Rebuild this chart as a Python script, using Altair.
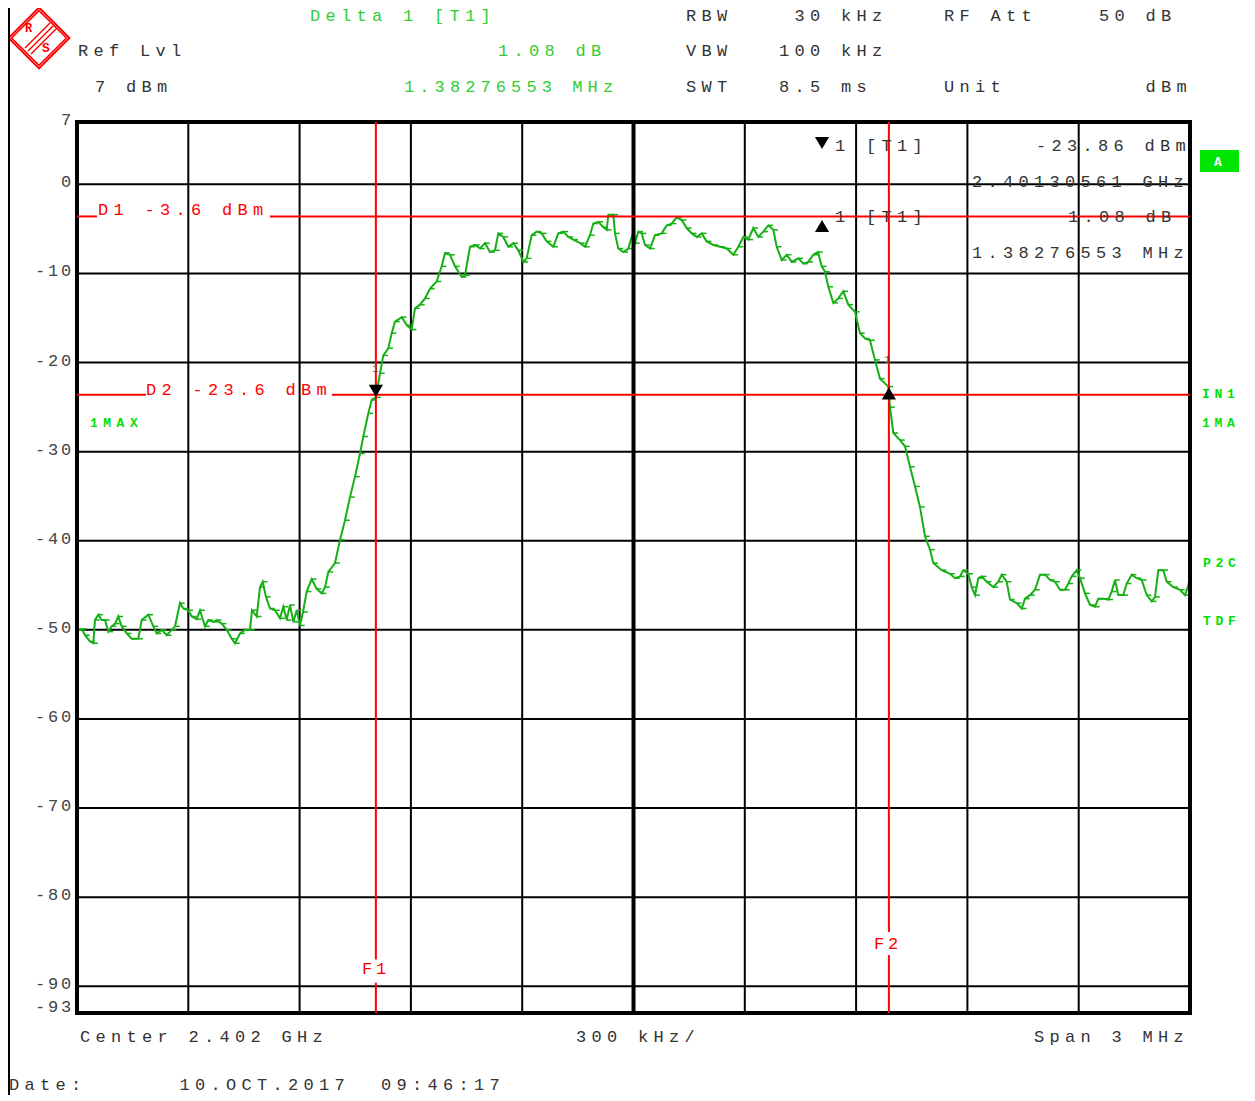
import altair as alt
import pandas as pd

# ---------------- trace data ----------------
freq_mhz = [
    2400.5035, 2400.5127, 2400.5216, 2400.5350, 2400.5439, 2400.5485, 2400.5574, 2400.5666, 2400.5755, 2400.5844,
    2400.5935, 2400.6024, 2400.6113, 2400.6205, 2400.6340, 2400.6474, 2400.6652, 2400.6744, 2400.6922, 2400.7057,
    2400.7148, 2400.7283, 2400.7418, 2400.7553, 2400.7642, 2400.7776, 2400.7865, 2400.8000, 2400.8092, 2400.8226,
    2400.8315, 2400.8450, 2400.8539, 2400.8674, 2400.8765, 2400.8900, 2400.9035, 2400.9170, 2400.9259, 2400.9394,
    2400.9528, 2400.9663, 2400.9717, 2400.9844, 2400.9933, 2401.0005, 2401.0094, 2401.0202, 2401.0337, 2401.0472,
    2401.0561, 2401.0652, 2401.0741, 2401.0830, 2401.0922, 2401.1011, 2401.1092, 2401.1191, 2401.1326, 2401.1461,
    2401.1596, 2401.1685, 2401.1774, 2401.1954, 2401.2089, 2401.2224, 2401.2358, 2401.2493, 2401.2628, 2401.2717,
    2401.2852, 2401.2943, 2401.3056, 2401.3167, 2401.3256, 2401.3391, 2401.3482, 2401.3571, 2401.3752, 2401.3887,
    2401.4022, 2401.4111, 2401.4245, 2401.4380, 2401.4515, 2401.4695, 2401.4830, 2401.4919, 2401.5054, 2401.5189,
    2401.5369, 2401.5458, 2401.5593, 2401.5728, 2401.5863, 2401.5997, 2401.6132, 2401.6267, 2401.6356, 2401.6491,
    2401.6625, 2401.6760, 2401.6895, 2401.7030, 2401.7121, 2401.7256, 2401.7391, 2401.7526, 2401.7660, 2401.7838,
    2401.7973, 2401.8108, 2401.8243, 2401.8377, 2401.8558, 2401.8693, 2401.8827, 2401.8916, 2401.9051, 2401.9186,
    2401.9278, 2401.9321, 2401.9456, 2401.9501, 2401.9590, 2401.9725, 2401.9860, 2401.9951, 2402.0040, 2402.0129,
    2402.0221, 2402.0310, 2402.0445, 2402.0580, 2402.0760, 2402.0895, 2402.1030, 2402.1164, 2402.1299, 2402.1434,
    2402.1569, 2402.1704, 2402.1838, 2402.1973, 2402.2151, 2402.2332, 2402.2512, 2402.2690, 2402.2825, 2402.2960,
    2402.3094, 2402.3229, 2402.3364, 2402.3499, 2402.3633, 2402.3768, 2402.3860, 2402.3995, 2402.4129, 2402.4264,
    2402.4442, 2402.4577, 2402.4712, 2402.4846, 2402.4973, 2402.5073, 2402.5162, 2402.5251, 2402.5386, 2402.5520,
    2402.5655, 2402.5790, 2402.5970, 2402.6105, 2402.6240, 2402.6375, 2402.6509, 2402.6644, 2402.6868, 2402.6914,
    2402.7003, 2402.7183, 2402.7318, 2402.7453, 2402.7588, 2402.7722, 2402.7857, 2402.7992, 2402.8081, 2402.8307,
    2402.8531, 2402.8666, 2402.8801, 2402.8890, 2402.9024, 2402.9116, 2402.9205, 2402.9294, 2402.9385, 2402.9520,
    2402.9698, 2402.9833, 2402.9925, 2403.0059, 2403.0148, 2403.0329, 2403.0464, 2403.0553, 2403.0687, 2403.0822,
    2403.0957, 2403.1092, 2403.1226, 2403.1361, 2403.1496, 2403.1631, 2403.1720, 2403.1811, 2403.1946, 2403.2035,
    2403.2170, 2403.2305, 2403.2439, 2403.2528, 2403.2663, 2403.2798, 2403.2889, 2403.2978, 2403.3067, 2403.3202,
    2403.3294, 2403.3429, 2403.3563, 2403.3698, 2403.3833, 2403.3968, 2403.4057, 2403.4146, 2403.4280, 2403.4372,
    2403.4550, 2403.4730, 2403.4865, 2403.4954, 2403.5000,
]
level_dbm = [
    -50.0, -49.9, -50.6, -51.3, -51.5, -48.9, -48.3, -48.9, -48.9, -50.2,
    -49.6, -49.3, -48.5, -49.6, -50.4, -51.0, -51.0, -48.9, -48.3, -49.6,
    -50.4, -50.0, -50.6, -50.0, -49.6, -47.0, -47.6, -47.8, -48.5, -48.8,
    -47.8, -49.6, -48.9, -49.1, -48.9, -49.3, -50.0, -51.0, -51.5, -50.4,
    -50.0, -50.0, -47.8, -48.5, -45.2, -44.6, -46.3, -47.6, -47.8, -48.7,
    -47.4, -48.9, -47.2, -49.1, -47.8, -49.5, -48.0, -45.7, -44.3, -45.4,
    -45.9, -45.2, -43.5, -42.5, -39.9, -37.7, -35.1, -32.8, -30.2, -28.3,
    -25.7, -24.2, -23.9, -21.2, -19.2, -18.4, -16.7, -15.4, -14.9, -15.8,
    -16.3, -13.9, -13.5, -12.8, -11.7, -10.9, -9.2, -7.7, -7.9, -9.2,
    -10.4, -10.2, -7.0, -6.8, -7.2, -6.6, -7.6, -7.4, -5.5, -5.9,
    -7.0, -6.6, -7.4, -8.7, -8.3, -5.7, -5.3, -5.5, -6.4, -7.0,
    -5.5, -5.3, -5.9, -6.2, -6.6, -7.0, -5.7, -4.4, -4.2, -4.8,
    -5.1, -3.4, -3.4, -5.5, -7.2, -7.6, -7.2, -5.9, -6.6, -5.3,
    -5.5, -6.8, -7.2, -5.7, -5.5, -4.6, -4.4, -3.7, -4.0, -4.9,
    -5.5, -5.9, -5.5, -6.4, -6.8, -7.0, -7.2, -7.9, -7.0, -5.9,
    -6.2, -4.9, -5.9, -5.3, -4.6, -5.1, -7.0, -8.5, -7.9, -8.7,
    -8.3, -8.9, -8.7, -7.9, -7.6, -9.2, -9.8, -11.5, -13.3, -12.8,
    -12.0, -13.5, -14.3, -16.7, -17.3, -17.5, -19.7, -21.8, -22.7, -25.0,
    -27.9, -28.7, -29.4, -31.7, -33.9, -36.2, -39.5, -41.0, -42.5, -43.3,
    -43.7, -44.2, -44.0, -43.3, -43.7, -45.2, -46.1, -44.2, -44.0, -44.6,
    -45.2, -44.6, -43.8, -44.6, -46.6, -47.0, -47.6, -46.5, -46.1, -45.5,
    -43.8, -43.8, -44.4, -44.6, -45.5, -45.5, -44.8, -44.0, -43.3, -44.2,
    -45.9, -47.2, -47.4, -46.5, -46.5, -46.6, -45.7, -44.4, -46.1, -46.1,
    -44.8, -43.8, -44.2, -44.4, -46.1, -46.8, -46.3, -43.3, -43.3, -44.6,
    -45.2, -45.5, -46.1, -45.0, -44.1,
]

# ---------------- axes / settings ----------------
F_START, F_STOP = 2400.5, 2403.5
REF_LVL, BOTTOM_LVL = 7, -93
CENTER_MHZ = 2402.0
x_grid_mhz = [2400.8, 2401.1, 2401.4, 2401.7, 2402.3, 2402.6, 2402.9, 2403.2]
y_grid_dbm = [0, -10, -20, -30, -40, -50, -60, -70, -80, -90]
y_tick_values = [7, 0, -10, -20, -30, -40, -50, -60, -70, -80, -90, -93]
y_tick_labels = ["7", "0", "-10", "-20", "-30", "-40", "-50", "-60", "-70", "-80", "-90", "-93"]

marker1_freq = 2401.30561
marker1_level = -23.86
delta_freq = 1.38276553
delta_level = 1.08
d1_level = -3.6
d2_level = -23.6

# display line gaps (around their labels)
d_line_x = [F_START, 2401.020, F_START, 2401.187]
d_line_x2 = [2400.554, F_STOP, 2400.686, F_STOP]
d_line_y = [d1_level, d1_level, d2_level, d2_level]
f_line_f = [marker1_freq, marker1_freq, marker1_freq + delta_freq, marker1_freq + delta_freq]
f_line_y = [REF_LVL, -89.6, REF_LVL, -86.5]
f_line_y2 = [-87.0, BOTTOM_LVL, -83.9, BOTTOM_LVL]

# ---------------- styling ----------------
W, H = 1113, 891
OX, OY = 77, 122          # page position of plot origin
TRACE = "#14b014"
GREEN_TXT = "#33cc33"
BRIGHT = "#00e000"
RED = "#ff0000"
DARK = "#333333"
AXT = "#444444"
FONT = "Liberation Mono"
FS = 17


def spaced(text, x_left, baseline, pitch, color, size=FS):
    out = []
    for i, ch in enumerate(text):
        if ch != " ":
            out.append({"ch": ch, "px": x_left + i * pitch - OX, "py": baseline - OY,
                        "col": color, "fs": size})
    return out


rows = []
P = 15.5
# header
rows += spaced("Delta 1 [T1]", 310, 21, P, GREEN_TXT)
rows += spaced("RBW    30 kHz", 686, 21, P, DARK)
rows += spaced("RF Att    50 dB", 944, 21, P, DARK)
rows += spaced("Ref Lvl", 78, 56, P, DARK)
rows += spaced("1.08 dB", 498, 56, P, GREEN_TXT)
rows += spaced("VBW   100 kHz", 686, 56, P, DARK)
rows += spaced("7 dBm", 95, 92, P, DARK)
rows += spaced("1.38276553 MHz", 404, 92, 15.3, GREEN_TXT)
rows += spaced("SWT   8.5 ms", 686, 92, P, DARK)
rows += spaced("Unit         dBm", 944, 92, P, DARK)
# marker info inside the grid
rows += spaced("1 [T1]", 835, 151, P, DARK)
rows += spaced("-23.86 dBm", 1036, 151, P, DARK)
rows += spaced("2.40130561 GHz", 972, 187, P, DARK)
rows += spaced("1 [T1]", 835, 222, P, DARK)
rows += spaced("1.08 dB", 1068, 222, P, DARK)
rows += spaced("1.38276553 MHz", 972, 258, P, DARK)
rows += spaced("1", 372, 372, 0, "#555555", 11)
rows += spaced("1", 884, 363, 0, "#555555", 11)
# display lines / frequency lines
rows += spaced("D1 -3.6 dBm", 98, 215, P, RED)
rows += spaced("D2 -23.6 dBm", 146, 395, P, RED)
rows += spaced("F1", 362, 974, 14, RED)
rows += spaced("F2", 874, 949, 14, RED)
# y labels
for lab, val in zip(y_tick_labels, y_tick_values):
    gy = OY + (REF_LVL - val) * H / 100.0
    base = gy - 1 if val == BOTTOM_LVL else gy + 3
    rows += spaced(lab, 74 - len(lab) * 13, base, 13, AXT)
# footer
rows += spaced("Center 2.402 GHz", 80, 1042, P, DARK)
rows += spaced("300 kHz/", 576, 1042, P, DARK)
rows += spaced("Span 3 MHz", 1034, 1042, P, DARK)
rows += spaced("Date:      10.OCT.2017  09:46:17", 9, 1090, P, DARK)

bold_rows = []
bold_rows += spaced("1MAX", 90, 427, 13.3, BRIGHT, 13)
bold_rows += spaced("IN1", 1202, 398, 12.5, BRIGHT, 13)
bold_rows += spaced("1MA", 1202, 427, 12.5, BRIGHT, 13)
bold_rows += spaced("P2C", 1203, 567, 12.5, BRIGHT, 13)
bold_rows += spaced("TDF", 1203, 625, 12.5, BRIGHT, 13)
bold_rows += spaced("A", 1214, 166, 0, "white", 13)
bold_rows += spaced("R", 25, 32, 0, RED, 12)
bold_rows += spaced("S", 42, 52, 0, RED, 13)

one = pd.DataFrame({"a": [0]})

xs = alt.Scale(domain=[F_START, F_STOP], nice=False, zero=False)
ys = alt.Scale(domain=[BOTTOM_LVL, REF_LVL], nice=False, zero=False)

trace_df = pd.DataFrame({"f": freq_mhz, "lvl": level_dbm})

vgrid = alt.Chart(pd.DataFrame({"x": x_grid_mhz})).mark_rule(color="black", strokeWidth=2).encode(
    x=alt.X("x:Q", scale=xs, axis=None))
hgrid = alt.Chart(pd.DataFrame({"y": y_grid_dbm})).mark_rule(color="black", strokeWidth=2).encode(
    y=alt.Y("y:Q", scale=ys, axis=None))

trace = alt.Chart(trace_df).mark_line(color=TRACE, strokeWidth=2, clip=True).encode(
    x=alt.X("f:Q", axis=None), y=alt.Y("lvl:Q", axis=None))
hatch = alt.Chart(trace_df).mark_point(shape="M0,0L1,0", size=90, filled=False, color=TRACE,
                                       strokeWidth=1.5, opacity=1, clip=True).encode(
    x=alt.X("f:Q", axis=None), y=alt.Y("lvl:Q", axis=None))

border = alt.Chart(pd.DataFrame({"x": [F_START], "x2": [F_STOP], "y": [REF_LVL], "y2": [BOTTOM_LVL]})).mark_rect(
    fillOpacity=0, stroke="black", strokeWidth=4).encode(
    x=alt.X("x:Q", axis=None), x2="x2:Q", y=alt.Y("y:Q", axis=None), y2="y2:Q")
center = alt.Chart(pd.DataFrame({"x": [CENTER_MHZ]})).mark_rule(color="black", strokeWidth=4).encode(
    x=alt.X("x:Q", axis=None))

dlines = alt.Chart(pd.DataFrame({"x": d_line_x, "x2": d_line_x2, "y": d_line_y})).mark_rule(
    color=RED, strokeWidth=2).encode(x=alt.X("x:Q", axis=None), x2="x2:Q", y=alt.Y("y:Q", axis=None))
flines = alt.Chart(pd.DataFrame({"f": f_line_f, "y": f_line_y, "y2": f_line_y2})).mark_rule(
    color=RED, strokeWidth=2).encode(x=alt.X("f:Q", axis=None), y=alt.Y("y:Q", axis=None), y2="y2:Q")

m1 = alt.Chart(pd.DataFrame({"f": [marker1_freq], "lvl": [marker1_level]})).mark_point(
    shape="triangle-down", filled=True, color="black", size=200, opacity=1, yOffset=-6).encode(
    x=alt.X("f:Q", axis=None), y=alt.Y("lvl:Q", axis=None))
m2 = alt.Chart(pd.DataFrame({"f": [marker1_freq + delta_freq], "lvl": [marker1_level + delta_level]})).mark_point(
    shape="triangle-up", filled=True, color="black", size=200, opacity=1, yOffset=6).encode(
    x=alt.X("f:Q", axis=None), y=alt.Y("lvl:Q", axis=None))

info_dn = alt.Chart(one).mark_point(shape="triangle-down", filled=True, color="black", size=200, opacity=1).encode(
    x=alt.value(822 - OX), y=alt.value(143 - OY))
info_up = alt.Chart(one).mark_point(shape="triangle-up", filled=True, color="black", size=200, opacity=1).encode(
    x=alt.value(822 - OX), y=alt.value(226 - OY))

abox = alt.Chart(one).mark_rect(color="#00e600").encode(
    x=alt.value(1200 - OX), x2=alt.value(1239 - OX), y=alt.value(150 - OY), y2=alt.value(172 - OY))

logo_outer = alt.Chart(one).mark_point(shape="diamond", filled=False, color=RED, size=3700,
                                       strokeWidth=2, opacity=1).encode(
    x=alt.value(39 - OX), y=alt.value(38 - OY))
logo_inner = alt.Chart(one).mark_point(shape="diamond", filled=False, color=RED, size=3000,
                                       strokeWidth=1.5, opacity=1).encode(
    x=alt.value(39 - OX), y=alt.value(38 - OY))
logo_lines = [
    alt.Chart(one).mark_rule(color=RED, strokeWidth=1.5).encode(
        x=alt.value(x1 - OX), x2=alt.value(x2 - OX), y=alt.value(y1 - OY), y2=alt.value(y2 - OY))
    for (x1, y1, x2, y2) in [(25, 48, 50, 23), (28, 51, 53, 26), (31, 54, 56, 29)]
]

frame = alt.Chart(one).mark_rule(color="black", strokeWidth=2).encode(
    x=alt.value(-68), y=alt.value(-114), y2=alt.value(H + 84))

texts = alt.Chart(pd.DataFrame(rows)).mark_text(align="left", baseline="alphabetic", font=FONT).encode(
    x=alt.X("px:Q", scale=None), y=alt.Y("py:Q", scale=None), text="ch:N",
    color=alt.Color("col:N", scale=None), size=alt.Size("fs:Q", scale=None))
btexts = alt.Chart(pd.DataFrame(bold_rows)).mark_text(align="left", baseline="alphabetic", font=FONT,
                                                      fontWeight="bold").encode(
    x=alt.X("px:Q", scale=None), y=alt.Y("py:Q", scale=None), text="ch:N",
    color=alt.Color("col:N", scale=None), size=alt.Size("fs:Q", scale=None))

chart = alt.layer(
    vgrid, hgrid, trace, hatch, center, border, dlines, flines, m1, m2, info_dn, info_up, abox,
    logo_outer, logo_inner, *logo_lines, frame, texts, btexts,
).properties(
    width=W, height=H,
    padding={"left": 69, "top": 114, "right": 51, "bottom": 82},
    autosize=alt.AutoSizeParams(type="none"),
    background="white",
).configure_view(strokeWidth=0)

chart.save("out.html", embed_options={"renderer": "svg", "actions": False})
